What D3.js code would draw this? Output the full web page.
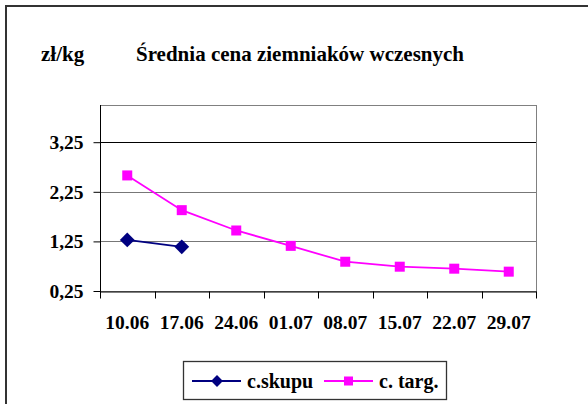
<!DOCTYPE html>
<html>
<head>
<meta charset="utf-8">
<script src="https://cdn.jsdelivr.net/npm/d3@7"></script>
</head>
<body style="margin:0; background:#fff">
<svg width="588" height="404"></svg>
<script>
// data
const dates = ["10.06", "17.06", "24.06", "01.07", "08.07", "15.07", "22.07", "29.07"];
const skupu = [1.28, 1.14];
const targ = [2.58, 1.88, 1.47, 1.16, 0.84, 0.74, 0.70, 0.64];
const yTicks = [0.25, 1.25, 2.25, 3.25];
const seriesNames = ["c.skupu", "c. targ."];

const svg = d3.select("svg");

//serif bold text helper
function styleText(sel, size) {
    sel.attr("font-family", "Liberation Serif")
        .attr("font-weight", "bold")
        .attr("font-size", size)
        .attr("fill", "#000");
}

//outer chart border (runs off the picture at right and bottom)
svg.append("rect")
    .attr("x", 6).attr("y", 6)
    .attr("width", 640).attr("height", 440)
    .attr("fill", "none")
    .attr("stroke", "#333")
    .attr("stroke-width", 2);

const x = d3.scaleBand().domain(dates).range([100, 536]).padding(0);
const y = d3.scaleLinear().domain([0.25, 4.0]).range([291, 105]);
const cx = d => x(d) + x.bandwidth() / 2;

//plot area border
svg.append("rect")
    .attr("x", 100).attr("y", y(4.0))
    .attr("width", 436).attr("height", y(0.25) - y(4.0))
    .attr("fill", "none")
    .attr("stroke", "#808080")
    .attr("stroke-width", 1)
    .attr("shape-rendering", "crispEdges");

//gridlines
svg.append("g")
    .selectAll("line")
    .data(yTicks.slice(1))
    .join("line")
    .attr("x1", 100).attr("x2", 536)
    .attr("y1", d => Math.round(y(d)) + 0.5)
    .attr("y2", d => Math.round(y(d)) + 0.5)
    .attr("stroke", d => d == 3.25 ? "#000" : "#777")
    .attr("stroke-width", 1);

//y axis
const yAxis = svg.append("g")
    .attr("transform", "translate(100.5,0)")
    .call(d3.axisLeft(y)
        .tickValues(yTicks)
        .tickSize(7)
        .tickSizeOuter(0)
        .tickPadding(10)
        .tickFormat(d => d.toFixed(2).replace(".", ",")));
yAxis.call(styleText, 19.5);
yAxis.select(".domain").attr("stroke", "#000").attr("d", `M0,${y(4.0)}V${y(0.25) + 7}`);
yAxis.selectAll("text").call(styleText, 19.5);

//x axis
const xAxis = svg.append("g")
    .attr("transform", `translate(0,${Math.round(y(0.25)) + 0.5})`)
    .call(d3.axisBottom(x).tickSize(0).tickSizeOuter(0).tickPadding(24));
xAxis.call(styleText, 19.5);
xAxis.select(".domain").attr("stroke", "#000");
xAxis.selectAll("text").call(styleText, 19.5);

//x tick marks between categories
xAxis.append("g")
    .selectAll("line")
    .data(dates.concat(["end"]))
    .join("line")
    .attr("x1", (d, i) => Math.round(x.range()[0] + i * x.step()) + 0.5)
    .attr("x2", (d, i) => Math.round(x.range()[0] + i * x.step()) + 0.5)
    .attr("y1", 0).attr("y2", 7)
    .attr("stroke", "#000");

//lines
const line = d3.line().x((d, i) => cx(dates[i])).y(d => y(d));

svg.append("path")
    .datum(targ)
    .attr("d", line)
    .attr("fill", "none")
    .attr("stroke", "#ff00ff")
    .attr("stroke-width", 1.8);

svg.append("path")
    .datum(skupu)
    .attr("d", line)
    .attr("fill", "none")
    .attr("stroke", "#000080")
    .attr("stroke-width", 1.8);

//markers
svg.append("g")
    .selectAll("rect")
    .data(targ)
    .join("rect")
    .attr("x", (d, i) => cx(dates[i]) - 5)
    .attr("y", d => y(d) - 5)
    .attr("width", 10).attr("height", 10)
    .attr("fill", "#ff00ff");

const diamond = d3.symbol().type(d3.symbolDiamond2).size(140);
svg.append("g")
    .selectAll("path")
    .data(skupu)
    .join("path")
    .attr("d", diamond)
    .attr("transform", (d, i) => `translate(${cx(dates[i])},${y(d)})`)
    .attr("fill", "#000080");

//titles
svg.append("text")
    .attr("x", 41).attr("y", 61)
    .text("zł/kg")
    .call(styleText, 21);

svg.append("text")
    .attr("x", 136).attr("y", 61)
    .text("Średnia cena ziemniaków wczesnych")
    .call(styleText, 21);

//legend
const legend = svg.append("g");
legend.append("rect")
    .attr("x", 183.5).attr("y", 361.5)
    .attr("width", 263).attr("height", 38)
    .attr("fill", "#fff")
    .attr("stroke", "#333")
    .attr("stroke-width", 1.3);

const legX = [192, 324];
const legColors = ["#000080", "#ff00ff"];
seriesNames.forEach((name, i) => {
    legend.append("line")
        .attr("x1", legX[i]).attr("x2", legX[i] + 49)
        .attr("y1", 381).attr("y2", 381)
        .attr("stroke", legColors[i])
        .attr("stroke-width", 1.8);
    if (i == 0) {
        legend.append("path")
            .attr("d", d3.symbol().type(d3.symbolDiamond2).size(90))
            .attr("transform", `translate(${legX[i] + 25},381)`)
            .attr("fill", legColors[i]);
    } else {
        legend.append("rect")
            .attr("x", legX[i] + 20).attr("y", 376.5)
            .attr("width", 9).attr("height", 9)
            .attr("fill", legColors[i]);
    }
    legend.append("text")
        .attr("x", legX[i] + 55).attr("y", 388)
        .text(name)
        .call(styleText, 20);
});
</script>
</body>
</html>
